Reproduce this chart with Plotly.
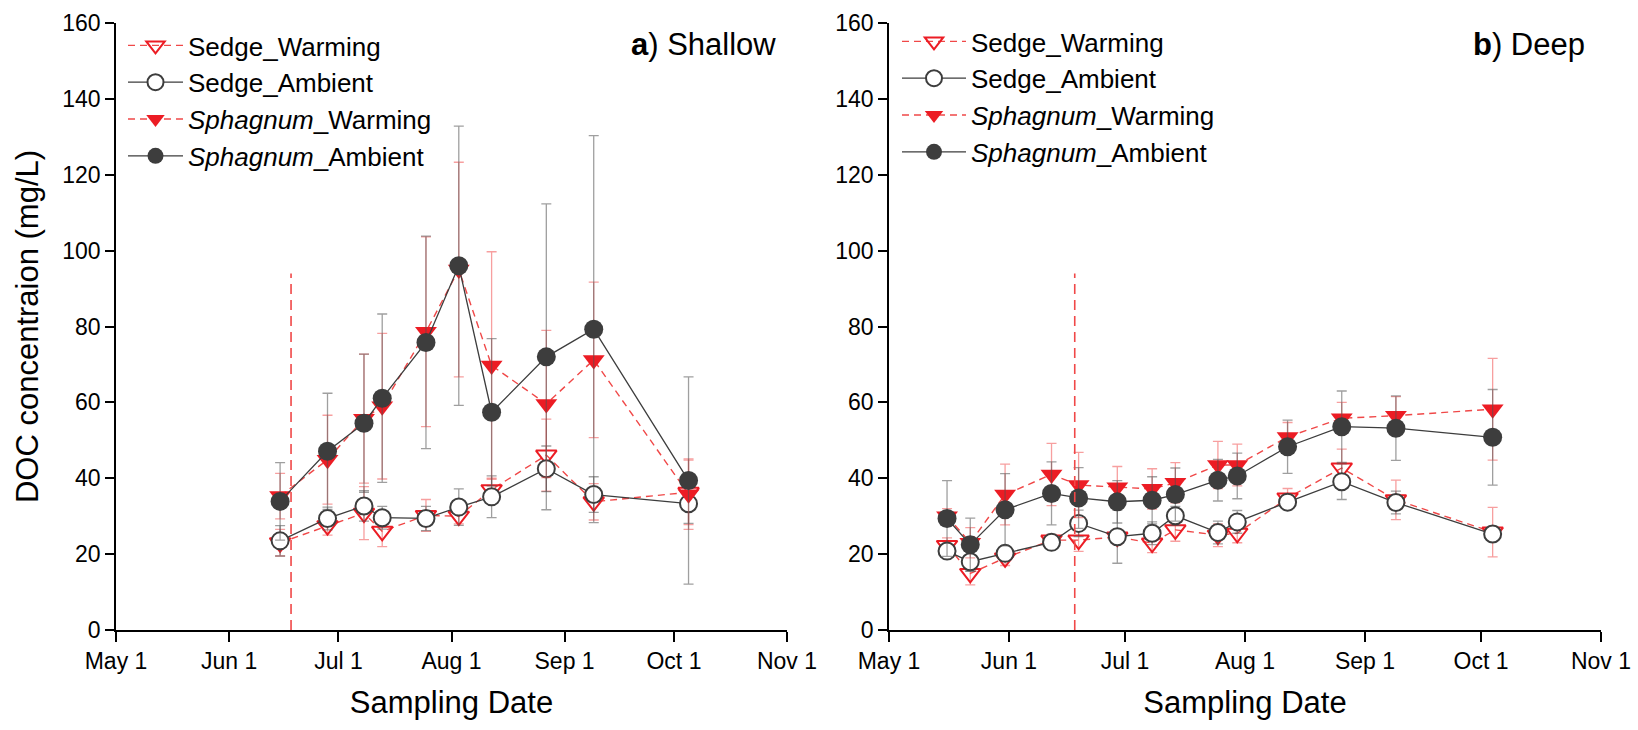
import plotly.graph_objects as go

# ---- sampling dates and DOC concentrations (mg/L), mean and error ----
shallow_dates = ["2015-06-15", "2015-06-28", "2015-07-08", "2015-07-13", "2015-07-25",
                 "2015-08-03", "2015-08-12", "2015-08-27", "2015-09-09", "2015-10-05"]
shallow_sedge_warm = [23.0, 27.5, 30.8, 26.0, 30.2, 30.0, 37.0, 46.1, 33.8, 36.3]
shallow_sedge_warm_err = [3.5, 2.5, 7.0, 4.0, 4.2, 2.0, 3.0, 9.5, 4.8, 8.5]
shallow_sedge_amb = [23.5, 29.4, 32.7, 29.6, 29.4, 32.4, 35.1, 42.5, 35.7, 33.3]
shallow_sedge_amb_err = [4.0, 3.0, 4.0, 3.0, 3.2, 4.8, 5.5, 6.0, 4.7, 5.2]
shallow_sph_warm = [35.3, 44.9, 55.7, 59.0, 78.6, 95.0, 69.7, 59.6, 71.2, 35.8]
shallow_sph_warm_err = [6.0, 11.7, 17.0, 19.2, 25.0, 28.3, 30.0, 19.4, 20.5, 9.3]
shallow_sph_amb = [33.9, 47.1, 54.5, 61.1, 75.8, 96.0, 57.4, 72.0, 79.3, 39.4]
shallow_sph_amb_err = [10.2, 15.3, 18.2, 22.2, 28.0, 36.8, 19.4, 40.3, 51.0, 27.3]

deep_dates = ["2015-05-16", "2015-05-22", "2015-05-31", "2015-06-12", "2015-06-19",
              "2015-06-29", "2015-07-08", "2015-07-14", "2015-07-25", "2015-07-30",
              "2015-08-12", "2015-08-26", "2015-09-09", "2015-10-04"]
deep_sedge_warm = [22.3, 14.9, 19.0, 23.7, 23.7, 24.5, 22.9, 26.4, 25.0, 25.5, 34.8, 42.7, 34.3, 25.8]
deep_sedge_warm_err = [2.0, 3.0, 2.0, 1.5, 3.0, 2.0, 2.5, 3.0, 3.0, 2.5, 2.5, 5.0, 5.2, 6.5]
deep_sedge_amb = [20.8, 18.0, 20.2, 23.1, 28.1, 24.6, 25.5, 30.1, 25.7, 28.5, 33.7, 39.1, 33.6, 25.3]
deep_sedge_amb_err = [2.0, 2.5, 2.0, 1.5, 3.5, 7.0, 3.0, 2.5, 3.0, 3.0, 2.0, 4.7, 3.0, 2.0]
deep_sph_warm = [30.0, 23.0, 35.7, 41.0, 38.2, 37.6, 37.2, 38.8, 43.5, 43.5, 50.9, 55.8, 56.5, 58.2]
deep_sph_warm_err = [2.0, 4.0, 8.0, 8.2, 8.6, 5.5, 5.3, 5.3, 6.2, 5.5, 3.8, 4.2, 5.0, 13.4]
deep_sph_amb = [29.4, 22.5, 31.7, 36.0, 34.8, 33.8, 34.2, 35.7, 39.5, 40.6, 48.3, 53.6, 53.2, 50.8]
deep_sph_amb_err = [10.0, 7.0, 9.5, 8.3, 8.0, 5.6, 6.2, 7.0, 5.5, 6.0, 7.0, 9.4, 8.5, 12.6]

# start of the warming treatment (vertical marker line)
warming_start = "2015-06-18"
warming_line_y = [0, 94]

series_names = ["Sedge_Warming", "Sedge_Ambient",
                "<i>Sphagnum</i>_Warming", "<i>Sphagnum</i>_Ambient"]

month_ticks = ["2015-05-01", "2015-06-01", "2015-07-01", "2015-08-01",
               "2015-09-01", "2015-10-01", "2015-11-01"]
month_labels = ["May 1", "Jun 1", "Jul 1", "Aug 1", "Sep 1", "Oct 1", "Nov 1"]
y_ticks = [0, 20, 40, 60, 80, 100, 120, 140, 160]

FONT = "Liberation Sans, Arial, sans-serif"
RED = "#ec1c24"
RED_LINE = "#f04848"
DARK = "#3d3d3d"
RED_ERR = "rgba(240,80,80,0.55)"
GRAY_ERR = "rgba(80,80,80,0.55)"

fig = go.Figure()


def add_panel(dates, sw, swe, sa, sae, pw, pwe, pa, pae, xa, ya, legend):
    styles = [
        (sw, swe, dict(symbol="triangle-down-open", size=18, color=RED, line=dict(width=2, color=RED)),
         dict(color=RED_LINE, width=1.4, dash="7px,5px"), RED_ERR),
        (sa, sae, dict(symbol="circle", size=17, color="white", line=dict(width=2, color=DARK)),
         dict(color=DARK, width=1.3), GRAY_ERR),
        (pw, pwe, dict(symbol="triangle-down", size=19, color=RED, line=dict(width=0)),
         dict(color=RED_LINE, width=1.4, dash="7px,5px"), RED_ERR),
        (pa, pae, dict(symbol="circle", size=19, color=DARK, line=dict(width=0)),
         dict(color=DARK, width=1.3), GRAY_ERR),
    ]
    for i, (vals, errs, marker, line, ecol) in enumerate(styles):
        fig.add_trace(go.Scatter(
            x=dates, y=vals, name=series_names[i], mode="lines+markers",
            marker=marker, line=line,
            error_y=dict(type="data", array=errs, visible=True, color=ecol,
                         thickness=1.3, width=5),
            xaxis=xa, yaxis=ya, legend=legend, legendgroup=f"{legend}{i}",
            showlegend=True, cliponaxis=False,
        ))
    fig.add_trace(go.Scatter(
        x=[warming_start, warming_start], y=warming_line_y, mode="lines",
        line=dict(color=RED_LINE, width=1.6, dash="10px,6px"),
        xaxis=xa, yaxis=ya, showlegend=False, hoverinfo="skip",
    ))


add_panel(shallow_dates, shallow_sedge_warm, shallow_sedge_warm_err,
          shallow_sedge_amb, shallow_sedge_amb_err,
          shallow_sph_warm, shallow_sph_warm_err,
          shallow_sph_amb, shallow_sph_amb_err, "x", "y", "legend")
add_panel(deep_dates, deep_sedge_warm, deep_sedge_warm_err,
          deep_sedge_amb, deep_sedge_amb_err,
          deep_sph_warm, deep_sph_warm_err,
          deep_sph_amb, deep_sph_amb_err, "x2", "y2", "legend2")

W, H = 1638, 730
y_dom = [(730 - 630) / H, (730 - 23) / H]

xaxis_common = dict(
    type="date", range=["2015-05-01", "2015-11-01"],
    tickvals=month_ticks, ticktext=month_labels,
    showline=True, linecolor="black", linewidth=1.5,
    ticks="outside", ticklen=10, tickwidth=1.5, tickcolor="black",
    showgrid=False, zeroline=False, automargin=False,
    tickfont=dict(family=FONT, size=23, color="black"),
    title=dict(text="Sampling Date", font=dict(family=FONT, size=31, color="black"), standoff=18),
)
yaxis_common = dict(
    range=[0, 160], tickvals=y_ticks,
    showline=True, linecolor="black", linewidth=1.5,
    ticks="outside", ticklen=9, tickwidth=1.5, tickcolor="black",
    showgrid=False, zeroline=False, automargin=False,
    tickfont=dict(family=FONT, size=23, color="black"),
)

legend_common = dict(
    xanchor="left", yanchor="top", bgcolor="rgba(0,0,0,0)",
    font=dict(family=FONT, size=26, color="black"),
    traceorder="grouped", tracegroupgap=0,
)

fig.update_layout(
    width=W, height=H,
    margin=dict(l=0, r=0, t=0, b=0, autoexpand=False),
    paper_bgcolor="white", plot_bgcolor="white",
    xaxis=dict(domain=[116 / W, 787 / W], anchor="y", **xaxis_common),
    yaxis=dict(domain=y_dom, anchor="x",
               title=dict(text="DOC concentraion (mg/L)",
                          font=dict(family=FONT, size=31, color="black"), standoff=14),
               **yaxis_common),
    xaxis2=dict(domain=[889 / W, 1601 / W], anchor="y2", **xaxis_common),
    yaxis2=dict(domain=y_dom, anchor="x2", **yaxis_common),
    legend=dict(x=123 / W, y=1 - 22 / H, itemwidth=55, **legend_common),
    legend2=dict(x=897 / W, y=1 - 18 / H, itemwidth=64, **legend_common),
    annotations=[
        dict(text="<b>a</b>) Shallow", xref="x domain", yref="y domain",
             x=0.987, y=0.964, xanchor="right", yanchor="middle", showarrow=False,
             font=dict(family=FONT, size=31, color="black")),
        dict(text="<b>b</b>) Deep", xref="x2 domain", yref="y2 domain",
             x=0.980, y=0.964, xanchor="right", yanchor="middle", showarrow=False,
             font=dict(family=FONT, size=31, color="black")),
    ],
    showlegend=True,
)

fig.write_html("out.html")
